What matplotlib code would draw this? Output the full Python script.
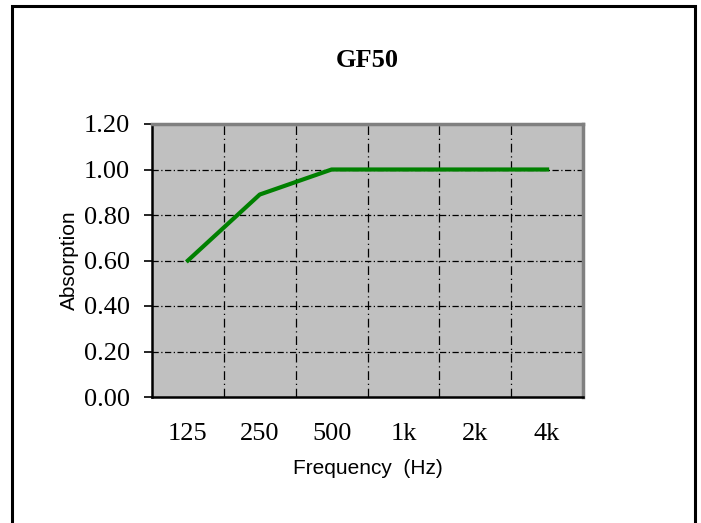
import matplotlib
matplotlib.use("Agg")
from matplotlib import pyplot as plt
from matplotlib.patches import Rectangle

# GF50 absorption per octave band
bands = ["125", "250", "500", "1k", "2k", "4k"]
absorption = [0.60, 0.89, 1.00, 1.00, 1.00, 1.00]
y_ticks = [0.0, 0.2, 0.4, 0.6, 0.8, 1.0, 1.2]
y_tick_labels = ["0.00", "0.20", "0.40", "0.60", "0.80", "1.00", "1.20"]

fig = plt.figure(figsize=(7.01, 5.23), dpi=100)
fig.patch.set_facecolor("white")

# outer chart frame
fig.patches.append(Rectangle((12 / 701, -0.05), 683 / 701, 1.05 - 6 / 523,
                             transform=fig.transFigure, fill=False,
                             edgecolor="black", linewidth=2.2))

ax = fig.add_axes([152 / 701, 126 / 523, 431 / 701, 273 / 523])
ax.set_facecolor("#C0C0C0")

x = list(range(len(bands)))
ax.plot(x, absorption, color="#008000", linewidth=3, zorder=3)

ax.set_xlim(-0.5, len(bands) - 0.5)
ax.set_ylim(0, 1.2)

ax.set_xticks(x)
ax.set_xticklabels(bands, family="Liberation Serif", fontsize=19)
ax.tick_params(axis="x", length=0, pad=19)
ax.set_yticks(y_ticks)
ax.set_yticklabels(y_tick_labels, family="Liberation Serif", fontsize=19)
ax.tick_params(axis="y", length=6, width=1.2, direction="out", pad=10)

# category boundary lines
for b in [i + 0.5 for i in range(len(bands) - 1)]:
    ax.axvline(b, color="black", linewidth=0.9, linestyle=(0, (7, 3, 1, 3)), zorder=1)
for v in y_ticks[1:-1]:
    ax.axhline(v, color="black", linewidth=0.9, linestyle=(0, (5, 2, 1, 2)), zorder=1)

for side in ["left", "bottom"]:
    ax.spines[side].set_color("black")
    ax.spines[side].set_linewidth(1.8)
for side in ["top", "right"]:
    ax.spines[side].set_color("#808080")
    ax.spines[side].set_linewidth(2.5)

ax.set_title("GF50", family="Liberation Serif", fontweight="bold", fontsize=19, pad=41)
ax.set_xlabel("Frequency  (Hz)", family="Liberation Sans", fontsize=15, labelpad=10)
ax.set_ylabel("Absorption", family="Liberation Sans", fontsize=15, labelpad=3)

fig.savefig("out.png", dpi=100)
